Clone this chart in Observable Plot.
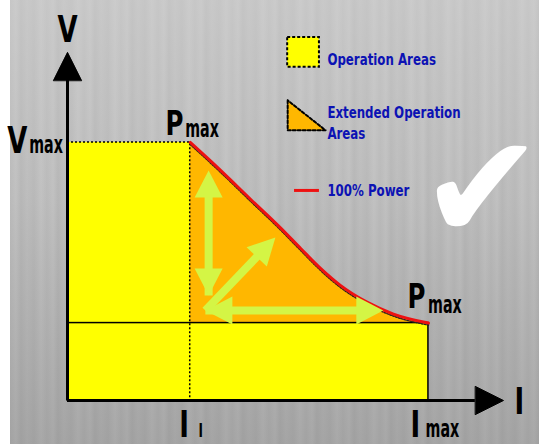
<!DOCTYPE html>
<html><head><meta charset="utf-8">
<script src="https://cdn.jsdelivr.net/npm/d3@7"></script>
<script src="https://cdn.jsdelivr.net/npm/@observablehq/plot@0.6"></script>
<style>
html,body{margin:0;padding:0;background:#fff;}
#wrap{position:relative;width:539px;height:446px;overflow:hidden;background:#fff;}
#bg{position:absolute;left:10px;top:0;width:529px;height:444px;
background:
 linear-gradient(180deg, rgba(215,215,215,0.45) 0%, rgba(190,190,190,0.15) 45%, rgba(110,110,110,0.3) 100%),
 repeating-linear-gradient(90deg, #b9b9b9 0px, #c1c1c1 6px, #b5b5b5 11px, #bdbdbd 17px, #b7b7b7 24px, #c2c2c2 31px, #b9b9b9 37px);}
#chart{position:absolute;left:0;top:0;}
</style></head>
<body><div id="wrap"><div id="bg"></div><div id="chart"></div></div>
<script>
// ---- chart values ----
const I1 = 3.4, Imax = 10, Vmax = 10, Vlow = 3.0;
const powerI = [3.4, 4.24, 5.07, 5.90, 6.46, 7.01, 7.56, 8.31, 9.03, 10];
const powerV = [10, 8.92, 7.80, 6.69, 5.89, 5.12, 4.46, 3.80, 3.35, 3.0];
// green direction arrows (from, to) in chart units
const arrowFromI = [3.91, 3.82, 3.82];
const arrowFromV = [4.07, 3.49, 3.49];
const arrowToI   = [3.91, 8.75, 5.76];
const arrowToV   = [8.91, 3.49, 6.32];
const arrowBoth  = [true, true, false];
const legendLabels = ["Operation Areas", "Extended Operation", "Areas", "100% Power"];

// ---- layout ----
const W = 539, H = 446, mL = 67, mR = 10, mT = 0, mB = 46;
const xDom = [0, 12.8], yDom = [0, 15.5];
const kx = (W - mL - mR) / (xDom[1] - xDom[0]);
const ky = (H - mT - mB) / (yDom[1] - yDom[0]);
const ang = (x1, y1, x2, y2) => Math.atan2((x2 - x1) * kx, (y2 - y1) * ky) * 180 / Math.PI;

const curve = powerI.map((I, i) => ({I, V: powerV[i]}));
const arrows = arrowFromI.map((x1, i) => ({x1, y1: arrowFromV[i], x2: arrowToI[i], y2: arrowToV[i], both: arrowBoth[i]}));
const heads = [];
arrows.forEach(a => {
  const r = ang(a.x1, a.y1, a.x2, a.y2);
  heads.push({x: a.x2, y: a.y2, r});
  if (a.both) heads.push({x: a.x1, y: a.y1, r: r + 180});
});
const headShape = (w) => ({draw(ctx, l) { ctx.moveTo(-w, 0); ctx.lineTo(0, -l); ctx.lineTo(w, 0); ctx.closePath(); }});

const GREEN = "#d4f545", ORANGE = "#ffb700", YELLOW = "#ffff00", RED = "#ee1111", BLUE = "#0c12b4";
const FONT = "'Liberation Sans Narrow', 'DejaVu Sans Condensed', 'DejaVu Sans', sans-serif";

const big = [
  {t: "V", x: 0, y: 13.88, s: 37, a: "middle", c: 78},
  {t: "V", x: -1.11, y: 9.61, s: 37, a: "end", c: 78},
  {t: "max", x: -1.06, y: 9.61, s: 24, a: "start", c: 66},
  {t: "P", x: 3.21, y: 10.27, s: 34, a: "end", c: 80},
  {t: "max", x: 3.26, y: 10.23, s: 24, a: "start", c: 66},
  {t: "P", x: 9.92, y: 3.57, s: 34, a: "end", c: 80},
  {t: "max", x: 9.99, y: 3.41, s: 24, a: "start", c: 66},
  {t: "I", x: 3.23, y: -1.43, s: 37, a: "middle", c: 78},
  {t: "I", x: 3.69, y: -1.40, s: 19, a: "middle", c: 70},
  {t: "I", x: 9.64, y: -1.43, s: 37, a: "middle", c: 78},
  {t: "max", x: 9.92, y: -1.43, s: 24, a: "start", c: 66},
  {t: "I", x: 12.52, y: -0.54, s: 37, a: "middle", c: 78}
];
const legendY = [13.02, 10.93, 10.12, 7.91];
const legendText = legendLabels.map((t, i) => ({t, x: 7.20, y: legendY[i]}));

const groups = d3.groups(big, d => `${d.s}|${d.a}|${d.c}`);
const textMarks = groups.map(([key, rows]) => {
  const [s, a, c] = key.split("|");
  return Plot.text(rows, {x: "x", y: "y", text: "t", fontSize: +s, fontWeight: "bold",
    fontFamily: FONT, fill: "black", textAnchor: a, lineAnchor: "bottom", ariaDescription: "cond-" + c});
});

const chart = Plot.plot({
  width: W, height: H, marginLeft: mL, marginRight: mR, marginTop: mT, marginBottom: mB,
  style: {background: "transparent", overflow: "visible"},
  x: {domain: xDom, axis: null},
  y: {domain: yDom, axis: null},
  marks: [
    Plot.areaY(curve, {x: "I", y1: Vlow, y2: "V", fill: ORANGE, curve: "monotone-x"}),
    Plot.rect([{a: 0}], {x1: 0, x2: I1, y1: 0, y2: Vmax, fill: YELLOW}),
    Plot.rect([{a: 0}], {x1: 0, x2: Imax, y1: 0, y2: Vlow, fill: YELLOW, stroke: "black", strokeWidth: 1.5}),
    Plot.rect([{a: 0}], {x1: 0, x2: I1, y1: 0, y2: Vmax, fill: "none", stroke: "black", strokeWidth: 1.5, strokeDasharray: "2,2"}),
    Plot.line(curve, {x: "I", y: "V", stroke: "#222", strokeWidth: 1.5, strokeDasharray: "1.5,1.5", curve: "monotone-x", dy: 2}),
    Plot.line(curve, {x: "I", y: "V", stroke: RED, strokeWidth: 3, curve: "monotone-x"}),
    Plot.arrow(arrows, {x1: "x1", y1: "y1", x2: "x2", y2: "y2", stroke: GREEN, strokeWidth: 8, headLength: 0,
      strokeLinecap: "butt", insetEnd: 18}),
    Plot.vector(heads, {x: "x", y: "y", rotate: "r", length: 27, anchor: "end", shape: headShape(14),
      fill: GREEN, stroke: "none"}),
    // axes
    Plot.ruleX([0], {y1: 0, y2: 12.4, stroke: "black", strokeWidth: 3}),
    Plot.ruleY([0], {x1: 0, x2: 11.3, stroke: "black", strokeWidth: 3}),
    Plot.vector([{x: 0, y: 13.49, r: 0}, {x: 12.08, y: 0, r: 90}], {x: "x", y: "y", rotate: "r", length: 28,
      anchor: "end", shape: headShape(14), fill: "black", stroke: "black", strokeWidth: 1}),
    ...textMarks,
    // legend
    Plot.rect([{a: 0}], {x1: 6.10, x2: 6.98, y1: 12.91, y2: 14.07, fill: YELLOW, stroke: "black", strokeWidth: 2, strokeDasharray: "3,2"}),
    Plot.line([{x: 6.10, y: 11.63}, {x: 6.10, y: 10.47}, {x: 7.15, y: 10.47}, {x: 6.10, y: 11.63}], {x: "x", y: "y",
      fill: ORANGE, stroke: "black", strokeWidth: 2, strokeDasharray: "3,2"}),
    Plot.ruleY([8.14], {x1: 6.29, x2: 6.98, stroke: RED, strokeWidth: 3}),
    Plot.text(legendText, {x: "x", y: "y", text: "t", fontSize: 16, fontWeight: "bold", fontFamily: FONT,
      fill: BLUE, textAnchor: "start", lineAnchor: "bottom", ariaDescription: "cond-82"}),
    // check mark
    Plot.text(["\u2714"], {x: 11.48, y: 8.10, text: d => d, fontSize: 148, fontFamily: "DejaVu Sans",
      fill: "white", textAnchor: "middle", lineAnchor: "middle"})
  ]
});
document.getElementById("chart").appendChild(chart);
// condensed lettering (styling only)
d3.select(chart).selectAll("g[aria-description^='cond']").each(function() {
  const f = +this.getAttribute("aria-description").split("-")[1] / 100;
  d3.select(this).selectAll("text").each(function() {
    const w = this.getComputedTextLength();
    if (w > 0) { this.setAttribute("textLength", w * f); this.setAttribute("lengthAdjust", "spacingAndGlyphs"); }
  });
});
</script>
</body></html>
